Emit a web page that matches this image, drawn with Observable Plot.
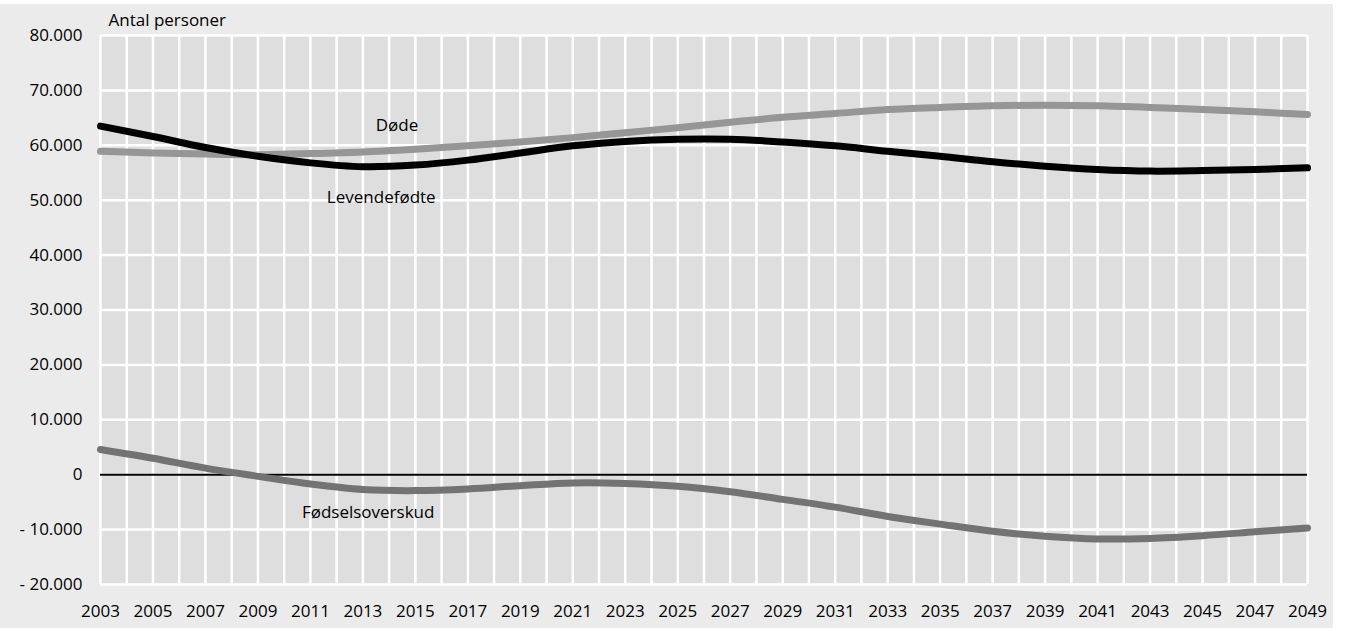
<!DOCTYPE html>
<html><head><meta charset="utf-8">
<script src="https://cdn.jsdelivr.net/npm/d3@7"></script>
<script src="https://cdn.jsdelivr.net/npm/@observablehq/plot@0.6"></script>
<style>
body{margin:0;background:#fff;}
#wrap{position:absolute;left:0;top:4px;width:1333px;height:624px;background:#ebebeb;}
#wrap svg text{fill:#000;}
</style></head>
<body><div id="wrap"></div>
<script>
const years = [2003,2005,2007,2009,2011,2013,2015,2017,2019,2021,2023,2025,2027,2029,2031,2033,2035,2037,2039,2041,2043,2045,2047,2049];
const levendefodte = [63500,61600,59600,58000,56800,56100,56400,57300,58600,59900,60700,61100,61100,60600,59900,58900,58000,57000,56200,55600,55300,55400,55600,55900];
const dode = [58900,58600,58400,58300,58500,58800,59300,59900,60600,61400,62300,63200,64200,65100,65800,66500,66900,67200,67300,67200,66900,66500,66100,65600];
const fodselsoverskud = [4600,3000,1200,-300,-1700,-2700,-2900,-2600,-2000,-1500,-1600,-2100,-3100,-4500,-5900,-7600,-9000,-10300,-11200,-11700,-11600,-11100,-10400,-9700];
const yTicks = [-20000,-10000,0,10000,20000,30000,40000,50000,60000,70000,80000];
const allYears = d3.range(2003, 2050);
const labels = [
  {name:"Døde", x:2014.3, y:63600},
  {name:"Levendefødte", x:2013.7, y:50500},
  {name:"Fødselsoverskud", x:2013.2, y:-6900}
];
const mk = arr => years.map((yr,i)=>({year:yr, value:arr[i]}));
const fmt = v => {
  if (v === 0) return "0";
  const s = d3.format(",")(Math.abs(v)).replace(/,/g,".");
  return (v < 0 ? "- " : "") + s;
};
const chart = Plot.plot({
  width:1333, height:624,
  marginLeft:100, marginRight:26, marginTop:31, marginBottom:44,
  style:{fontFamily:"'Open Sans', sans-serif", fontSize:"17px", color:"#000", background:"transparent"},
  x:{domain:[2003,2049], label:null},
  y:{domain:[-20000,80000], label:null},
  marks:[
    Plot.frame({fill:"#dedede", stroke:null}),
    Plot.ruleX(allYears, {stroke:"#fff", strokeWidth:2.5}),
    Plot.ruleY(yTicks, {stroke:"#fff", strokeWidth:2.5}),
    Plot.ruleY([0], {stroke:"#000", strokeWidth:2}),
    Plot.line(mk(dode), {x:"year", y:"value", stroke:"#969696", strokeWidth:7, curve:"catmull-rom"}),
    Plot.line(mk(levendefodte), {x:"year", y:"value", stroke:"#000", strokeWidth:7, curve:"catmull-rom"}),
    Plot.line(mk(fodselsoverskud), {x:"year", y:"value", stroke:"#737373", strokeWidth:7, curve:"catmull-rom"}),
    Plot.text(labels, {x:"x", y:"y", text:"name", fill:"#000", fontSize:17}),
    Plot.text(["Antal personer"], {frameAnchor:"top-left", dx:8, dy:-22, fontSize:17, textAnchor:"start", fill:"#000"}),
    Plot.axisX({ticks:d3.range(2003,2050,2), tickFormat:d=>String(d), tickSize:0, tickPadding:20, fontSize:17}),
    Plot.axisY({ticks:yTicks, tickFormat:fmt, tickSize:0, tickPadding:18, fontSize:17})
  ]
});
document.getElementById("wrap").appendChild(chart);
</script></body></html>
